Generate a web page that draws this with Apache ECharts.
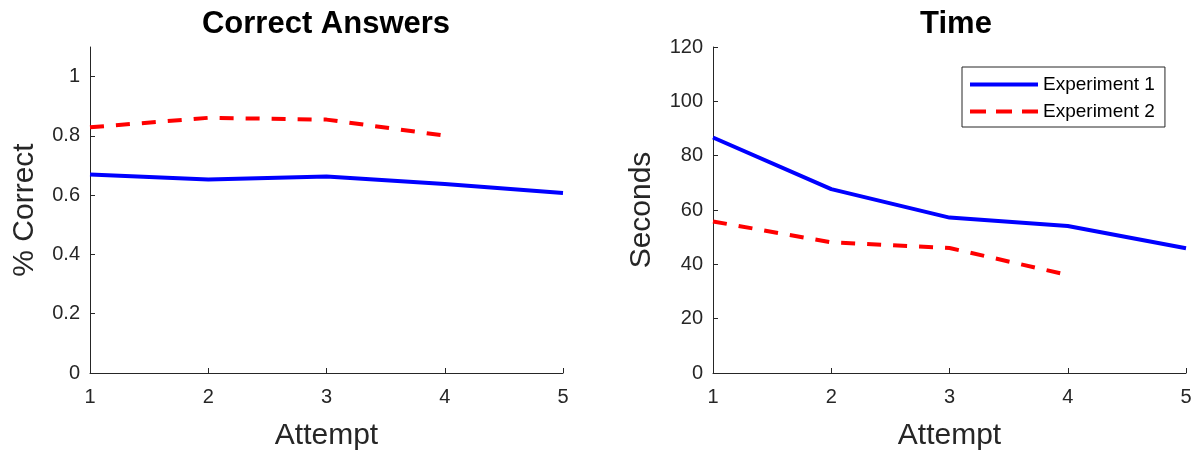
<!DOCTYPE html>
<html>
<head>
<meta charset="utf-8">
<script src="https://cdn.jsdelivr.net/npm/echarts@6/dist/echarts.min.js"></script>
<style>
html, body { margin: 0; padding: 0; background: #fff; }
#chart { width: 1197px; height: 456px; }
</style>
</head>
<body>
<div id="chart"></div>
<script>
var attempts = [1, 2, 3, 4, 5];
var correctExp1 = [0.670, 0.653, 0.663, 0.638, 0.607];
var correctExp2 = [0.829, 0.861, 0.855, 0.801];
var timeExp1 = [86.7, 67.7, 57.2, 54.1, 45.9];
var timeExp2 = [55.8, 48.1, 46.0, 36.1];
var correctTicks = [0, 0.2, 0.4, 0.6, 0.8, 1];
var timeTicks = [0, 20, 40, 60, 80, 100, 120];

var FONT = '"Liberation Sans", Arial, sans-serif';
var INK = '#262626';

function pairs(vals) {
    return vals.map(function (v, i) { return [attempts[i], v]; });
}

function xAxisOpt(idx) {
    return {
        gridIndex: idx,
        type: 'value',
        min: 1, max: 5, interval: 1,
        name: 'Attempt',
        nameLocation: 'middle',
        nameGap: 48,
        nameTextStyle: { fontFamily: FONT, fontSize: 30, color: INK },
        axisLine: { lineStyle: { color: INK, width: 1 } },
        axisTick: { inside: true, length: 5, lineStyle: { color: INK } },
        axisLabel: { margin: 14, fontFamily: FONT, fontSize: 20, color: INK },
        splitLine: { show: false }
    };
}

function yAxisOpt(idx, name, max, interval, ticks, gap) {
    return {
        gridIndex: idx,
        type: 'value',
        min: 0, max: max, interval: interval,
        name: name,
        nameLocation: 'middle',
        nameGap: gap,
        nameTextStyle: { fontFamily: FONT, fontSize: 30, color: INK },
        axisLine: { show: true, lineStyle: { color: INK, width: 1 } },
        axisTick: { show: true, inside: true, length: 5, lineStyle: { color: INK }, customValues: ticks },
        axisLabel: { margin: 10, fontFamily: FONT, fontSize: 20, color: INK, customValues: ticks },
        splitLine: { show: false }
    };
}

function lineSeries(name, idx, data, color, dashed) {
    return {
        name: name,
        type: 'line',
        xAxisIndex: idx,
        yAxisIndex: idx,
        data: pairs(data),
        symbol: 'none',
        animation: false,
        lineStyle: { color: color, width: 4, type: dashed ? [14, 12] : 'solid' },
        itemStyle: { color: color }
    };
}

var myChart = echarts.init(document.getElementById('chart'));
var option = {
    backgroundColor: '#fff',
    animation: false,
    title: [
        { text: 'Correct Answers', left: 321, top: 4, textAlign: 'center',
          textStyle: { fontFamily: FONT, fontSize: 31, fontWeight: 'bold', color: '#000' } },
        { text: 'Time', left: 951, top: 4, textAlign: 'center',
          textStyle: { fontFamily: FONT, fontSize: 31, fontWeight: 'bold', color: '#000' } }
    ],
    legend: {
        orient: 'vertical',
        left: 962,
        top: 67,
        padding: [8, 10, 6, 6],
        itemWidth: 68,
        itemHeight: 20,
        itemGap: 8,
        borderColor: INK,
        borderWidth: 1,
        backgroundColor: '#fff',
        itemStyle: { opacity: 0 },
        lineStyle: { width: 4 },
        textStyle: { fontFamily: FONT, fontSize: 19, color: '#000' },
        data: [
            { name: 'Experiment 1' },
            { name: 'Experiment 2', lineStyle: { width: 4, type: [16, 10] } }
        ]
    },
    grid: [
        { left: 90, top: 47, width: 473, height: 326 },
        { left: 713, top: 47, width: 473, height: 326 }
    ],
    xAxis: [xAxisOpt(0), xAxisOpt(1)],
    yAxis: [
        yAxisOpt(0, '% Correct', 1.1, 0.2, correctTicks, 50),
        yAxisOpt(1, 'Seconds', 120, 20, timeTicks, 56)
    ],
    series: [
        lineSeries('Experiment 1', 0, correctExp1, '#0000ff', false),
        lineSeries('Experiment 2', 0, correctExp2, '#ff0000', true),
        lineSeries('Experiment 1', 1, timeExp1, '#0000ff', false),
        lineSeries('Experiment 2', 1, timeExp2, '#ff0000', true)
    ]
};
myChart.setOption(option);
</script>
</body>
</html>
